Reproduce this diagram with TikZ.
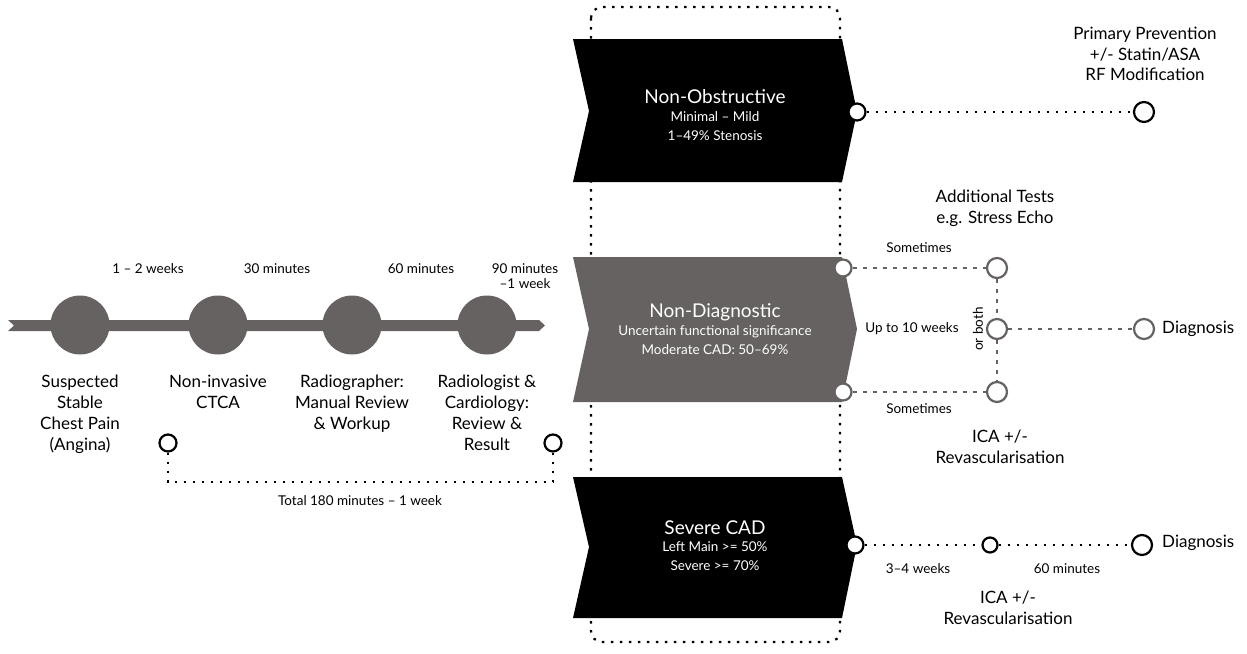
\documentclass[tikz,border=0pt]{standalone}
\usepackage{fontspec}
\setmainfont{Lato}
\definecolor{slate}{RGB}{102,98,97}

\begin{document}
\begin{tikzpicture}[x=1pt,y=-1pt,
  lbl/.style={font=\fontsize{17}{20.8}\selectfont, align=center, inner sep=0},
  small/.style={font=\fontsize{13.5}{15}\selectfont, align=center, inner sep=0},
  title/.style={font=\fontsize{19}{22}\selectfont, text=white, inner sep=0},
  sub/.style={font=\fontsize{13.5}{19}\selectfont, text=white, align=center, inner sep=0},
  milestone/.style={circle, fill=slate, minimum size=59pt, inner sep=0},
  ring/.style={circle, draw=black, fill=white, line width=2.2pt, minimum size=#1, inner sep=0},
  ring/.default=17pt,
  gring/.style={ring=#1, draw=slate},
  gring/.default=20pt,
  dots/.style={black, line width=2.2pt, dash pattern=on 2.5pt off 6.5pt},
  gdash/.style={slate, line width=2.2pt, dash pattern=on 4pt off 6pt},
]
\useasboundingbox (0,0) rectangle (1247,653);

% ---------- timeline ----------
\fill[slate] (8,320) -- (539,320) -- (545,325.5) -- (539,331) -- (8,331) -- (14,325.5) -- cycle;
\node[milestone] (m1) at (80,325) {};
\node[milestone] (m2) at (218,325) {};
\node[milestone] (m3) at (352,325) {};
\node[milestone] (m4) at (487,325) {};

\node[small] (d1) at (148,269) {1 – 2 weeks};
\node[small] (d2) at (277,269) {30 minutes};
\node[small] (d3) at (421,269) {60 minutes};
\node[small] (d4) at (525,276) {90 minutes\\–1 week};

\node[lbl, anchor=north] (s1) at (80,375) {Suspected\\Stable\\Chest Pain\\(Angina)};
\node[lbl, anchor=north] (s2) at (218,375) {Non-invasive\\CTCA};
\node[lbl, anchor=north] (s3) at (352,375) {Radiographer:\\Manual Review\\\& Workup};
\node[lbl, anchor=north] (s4) at (487,375) {Radiologist \&\\Cardiology:\\Review \&\\Result};

\node[ring] (t1) at (168,443) {};
\node[ring] (t2) at (553,443) {};
\coordinate (tot) at (360,482);
\draw[dots] (t1) -- (t1 |- tot) -- (t2 |- tot) -- (t2);
\node[small] (totl) at (360,501) {Total 180 minutes – 1 week};

% ---------- result group ----------
\draw[dots, rounded corners=11pt] (591,7) rectangle (840,642);

\fill[black] (573,39) -- (842,39) -- (857,112) -- (842,182) -- (573,182) -- (589,111) -- cycle;
\fill[slate] (573,257) -- (842,257) -- (857,329) -- (842,402) -- (573,402) -- (589,329) -- cycle;
\fill[black] (573,477) -- (842,477) -- (857,545) -- (842,618) -- (573,618) -- (589,547) -- cycle;

\node[title] (c1) at (715,97) {Non-Obstructive};
\node[sub, anchor=north] (c1s) at (715,111) {Minimal – Mild\\1–49\% Stenosis};
\node[title] (c2) at (715,312) {Non-Diagnostic};
\node[sub, anchor=north] (c2s) at (715,325) {Uncertain functional significance\\Moderate CAD: 50–69\%};
\node[title] (c3) at (715,528) {Severe CAD};
\node[sub, anchor=north] (c3s) at (715,541) {Left Main >= 50\%\\Severe >= 70\%};

% ---------- non-obstructive outcome ----------
\node[ring] (o1) at (857,112) {};
\node[ring=20pt] (o2) at (1144,112) {};
\draw[dots] (o1) -- (o2);
\node[lbl] (o2l) at (1145,54) {Primary Prevention\\+/- Statin/ASA\\RF Modification};

% ---------- non-diagnostic outcome ----------
\node[lbl] (addl) at (995,208) {Additional Tests\\e.g. Stress Echo};
\node[gring=17pt] (n1) at (843,268) {};
\node[gring=17pt] (n2) at (843,392) {};
\node[gring] (g1) at (997,268) {};
\node[gring] (g2) at (997,329) {};
\node[gring] (g3) at (997,392) {};
\node[gring] (g4) at (1144,329) {};
\draw[gdash] (n1) -- (g1);
\draw[gdash] (n2) -- (g3);
\draw[gdash] (g1) -- (g2);
\draw[gdash] (g2) -- (g3);
\draw[gdash] (g2) -- (g4);
\node[small] (sm1) at (919,248) {Sometimes};
\node[small] (sm2) at (919,409) {Sometimes};
\node[small] (up) at (912,329) {Up to 10 weeks};
\node[small, rotate=90] (both) at (978,329) {or both};
\node[lbl, anchor=west] (dg1) at (1162,329) {Diagnosis};
\node[lbl] (ica1) at (1000,447) {ICA +/-\\Revascularisation};

% ---------- severe outcome ----------
\node[ring] (v1) at (855,545) {};
\node[ring=15pt] (v2) at (990,545) {};
\node[ring=20pt] (v3) at (1142,545) {};
\draw[dots] (v1) -- (v2);
\draw[dots] (v2) -- (v3);
\node[small] (w1) at (918,569) {3–4 weeks};
\node[small] (w2) at (1067,569) {60 minutes};
\node[lbl, anchor=west] (dg2) at (1162,543) {Diagnosis};
\node[lbl] (ica2) at (1008,608) {ICA +/-\\Revascularisation};
\end{tikzpicture}
\end{document}
